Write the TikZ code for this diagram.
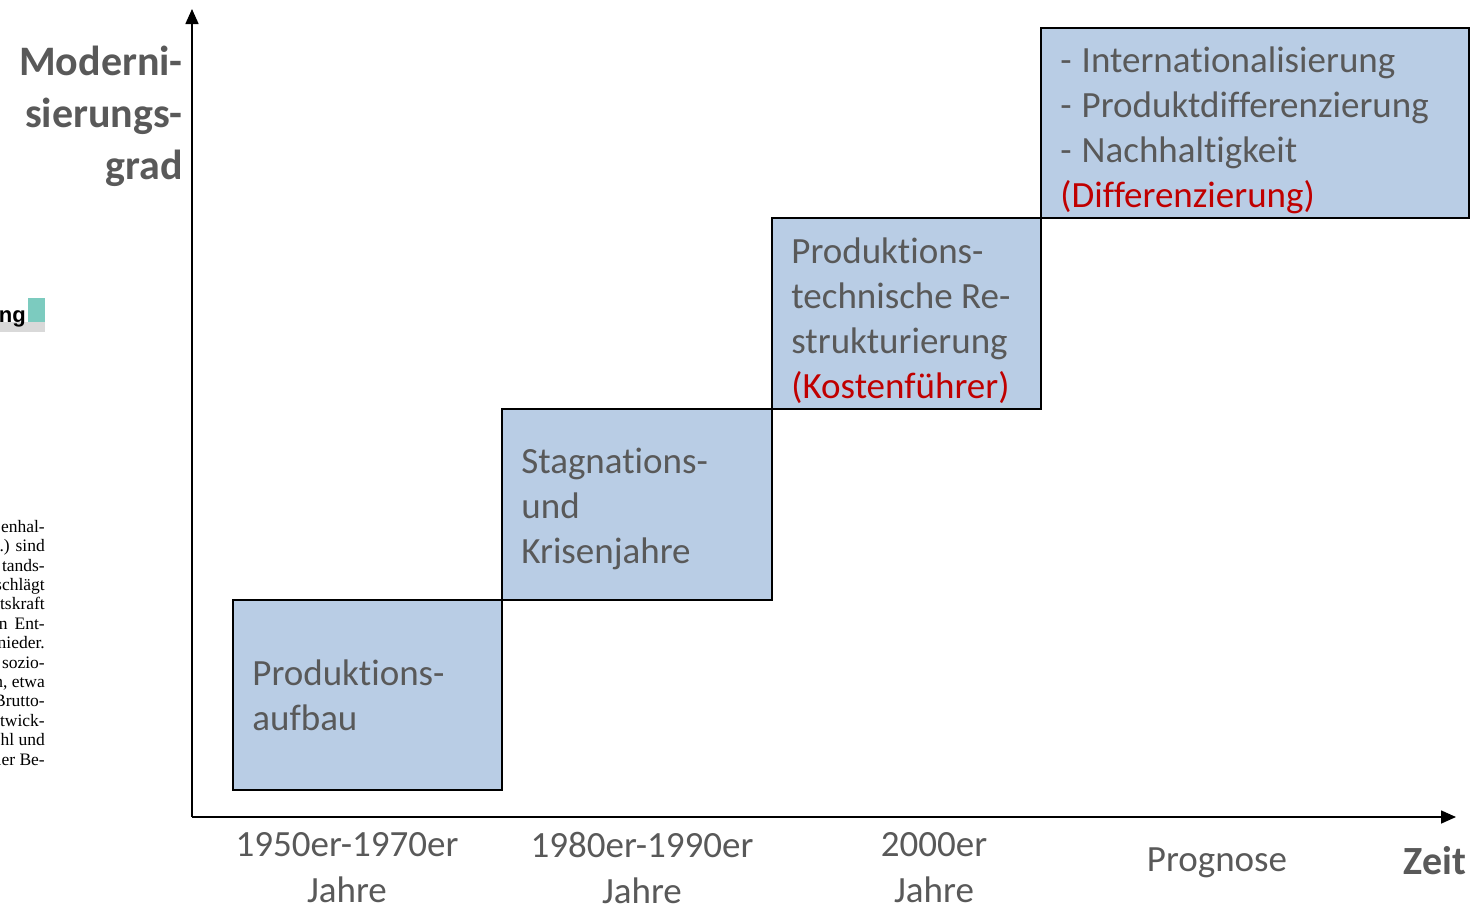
\documentclass[tikz,border=0pt]{standalone}
\usepackage{fontspec}
\setmainfont{Carlito}[Ligatures=NoCommon]
\newfontfamily\scanserif{Liberation Serif}
\newfontfamily\scansans{Liberation Sans}
\usetikzlibrary{arrows.meta}
\definecolor{boxfill}{HTML}{B9CDE5}
\definecolor{txtgray}{HTML}{595959}
\definecolor{accred}{HTML}{C00000}
\definecolor{teal}{HTML}{7CCBBF}
\definecolor{barGray}{HTML}{D9D9D9}
\tikzset{
  stepbox/.style={draw=black, line width=1.6pt, fill=boxfill, inner sep=0pt},
  boxtext/.style={anchor=west, inner sep=0pt, text=txtgray,
    font=\fontsize{37}{45}\selectfont, align=left},
  axislbl/.style={text=txtgray, font=\fontsize{37}{46}\selectfont, align=center, inner sep=0pt},
  axisline/.style={line width=1.6pt, -{Triangle[length=15pt,width=13pt]}},
}
\newcommand{\dashitem}{-\hspace{0.27em}}
\begin{document}
\begin{tikzpicture}[x=1pt,y=-1pt]
\useasboundingbox (0,0) rectangle (1475,903);
% scanned page artefacts at the left edge
\fill[barGray] (0,322) rectangle (45,332);
\fill[teal] (28,298) rectangle (45,322);
\node[anchor=base east, inner sep=0pt, font=\scansans\bfseries\fontsize{22}{22}\selectfont] (ung) at (26,322) {ung};
\node[anchor=north east, inner sep=0pt, align=right, font=\scanserif\fontsize{17.5}{19.4}\selectfont] (scan) at (45,520)
  {enhal-\\.) sind\\tands-\\schlägt\\tskraft\\n\hspace{7pt}Ent-\\nieder.\\sozio-\\n, etwa\\Brutto-\\twick-\\hl und\\ler Be-};
% axes
\coordinate (O) at (192,817);
\coordinate (ytip) at (192,9);
\coordinate (xtip) at (1456,817);
\draw[axisline] (O) -- (ytip);
\draw[axisline] (O) -- (xtip);
% boxes
\node[stepbox, minimum width=269pt, minimum height=190pt] (b1) at (367.5,695) {};
\node[stepbox, minimum width=270pt, minimum height=191pt] (b2) at (637,504.5) {};
\node[stepbox, minimum width=269pt, minimum height=191pt] (b3) at (906.5,313.5) {};
\node[stepbox, minimum width=428pt, minimum height=190pt] (b4) at (1255,123) {};
\node[boxtext] (t1) at ([xshift=20pt]b1.west) {Produktions-\\aufbau};
\node[boxtext] (t2) at ([xshift=20pt,yshift=-4pt]b2.west) {Stagnations-\\und\\Krisenjahre};
\node[boxtext] (t3) at ([xshift=20pt,yshift=-7.5pt]b3.west)
  {Produktions-\\technische Re-\\strukturierung\\\textcolor{accred}{(Kostenführer)}};
\node[boxtext] (t4) at ([xshift=20pt,yshift=-7.5pt]b4.west)
  {\dashitem Internationalisierung\\\dashitem Produktdifferenzierung\\\dashitem Nachhaltigkeit\\\textcolor{accred}{(Differenzierung)}};
% axis labels
\node[axislbl, anchor=north] (l1) at (347,832) {1950er-1970er\\Jahre};
\node[axislbl, anchor=north] (l2) at (642,832) {1980er-1990er\\Jahre};
\node[axislbl, anchor=north] (l3) at (934,832) {2000er\\Jahre};
\node[axislbl] (l4) at (1217,863) {Prognose};
\node[text=txtgray, font=\bfseries\fontsize{40}{40}\selectfont, inner sep=0pt] (zeit) at (1435,861) {Zeit};
\node[text=txtgray, font=\bfseries\fontsize{42}{52}\selectfont, align=right, inner sep=0pt, anchor=east] (ylab) at (183,116)
  {Moderni-\\sierungs-\\grad};
\end{tikzpicture}
\end{document}
